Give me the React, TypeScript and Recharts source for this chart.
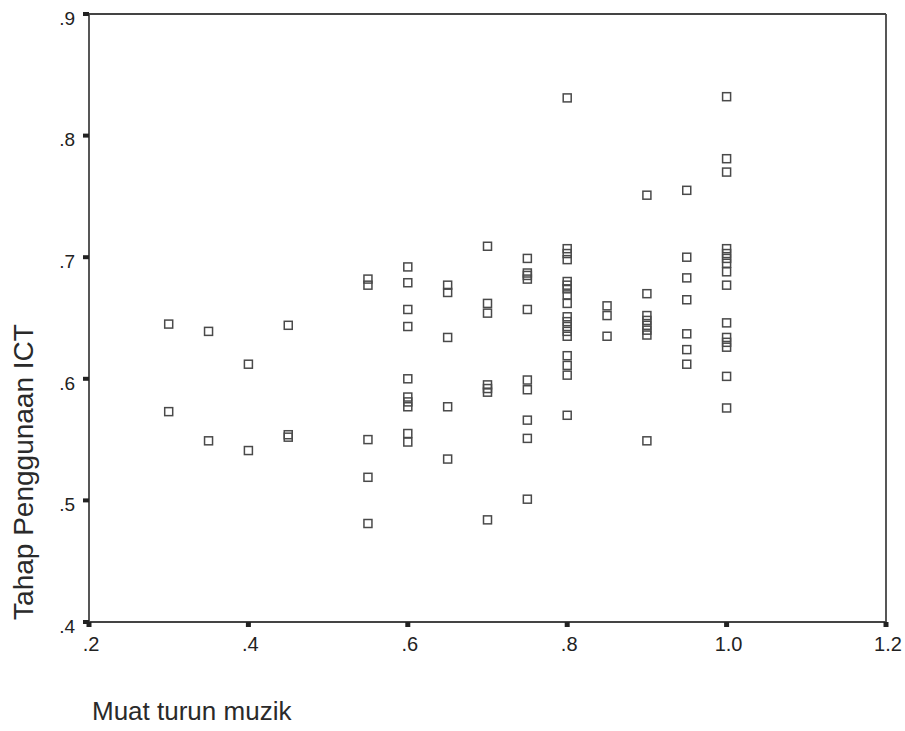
import { ScatterChart, Scatter, XAxis, YAxis, ReferenceLine, Label } from "recharts";

const ink = "#222";
const frame = "#444";
const marker = "#4a4a4a";

// x levels of "Muat turun muzik" and the ICT values read at each level
const xLevels = [0.3, 0.35, 0.4, 0.45, 0.55, 0.6, 0.65, 0.7, 0.75, 0.8, 0.85, 0.9, 0.95, 1.0];
const y030 = [0.645, 0.573];
const y035 = [0.639, 0.549];
const y040 = [0.612, 0.541];
const y045 = [0.644, 0.554, 0.552];
const y055 = [0.682, 0.677, 0.55, 0.519, 0.481];
const y060 = [0.692, 0.679, 0.657, 0.643, 0.6, 0.585, 0.581, 0.577, 0.555, 0.548];
const y065 = [0.677, 0.671, 0.634, 0.577, 0.534];
const y070 = [0.709, 0.662, 0.654, 0.595, 0.592, 0.589, 0.484];
const y075 = [0.699, 0.687, 0.685, 0.682, 0.657, 0.599, 0.591, 0.566, 0.551, 0.501];
const y080 = [0.831, 0.707, 0.703, 0.698, 0.68, 0.677, 0.674, 0.669, 0.662, 0.651, 0.647, 0.643, 0.639, 0.635, 0.619, 0.611, 0.603, 0.57];
const y085 = [0.66, 0.652, 0.635];
const y090 = [0.751, 0.67, 0.652, 0.648, 0.644, 0.64, 0.636, 0.549];
const y095 = [0.755, 0.7, 0.683, 0.665, 0.637, 0.624, 0.612];
const y100 = [0.832, 0.781, 0.77, 0.707, 0.703, 0.699, 0.695, 0.688, 0.677, 0.646, 0.634, 0.63, 0.626, 0.602, 0.576];

const xTicks = [0.2, 0.4, 0.6, 0.8, 1.0, 1.2];
const yTicks = [0.4, 0.5, 0.6, 0.7, 0.8, 0.9];

const columns = [y030, y035, y040, y045, y055, y060, y065, y070, y075, y080, y085, y090, y095, y100];
const points = columns.flatMap((ys, i) => ys.map((y) => ({ x: xLevels[i], y })));

const fmt = (v: number) => v.toFixed(1).replace(/^0/, "");
const font = "'Liberation Sans', Arial, sans-serif";

const SquareDot = (p: any) => (
  <rect x={p.cx - 4} y={p.cy - 4} width={8} height={8} fill="#fff" fillOpacity={0} stroke={marker} strokeWidth={1.5} />
);

const YTick = ({ x, y, payload }: any) => (
  <text x={x} y={y + 4} dy="0.355em" textAnchor="end" fontSize={19} fill={ink} fontFamily={font}>
    {fmt(payload.value)}
  </text>
);

const XTick = ({ x, y, payload }: any) => (
  <text x={x + 2} y={y} dy="0.71em" textAnchor="middle" fontSize={20} fill={ink} fontFamily={font}>
    {fmt(payload.value)}
  </text>
);

export default function App() {
  return (
    <div style={{ position: "absolute", left: 0, top: 0, width: 905, height: 731, background: "#fff" }}>
      <ScatterChart width={905} height={731} margin={{ top: 14, right: 19, left: 0, bottom: 0 }}>
        <XAxis
          type="number"
          dataKey="x"
          domain={[0.2, 1.2]}
          ticks={xTicks}
          height={109}
          tickSize={5}
          tickMargin={10}
          tickLine={{ stroke: ink, strokeWidth: 5 }}
          axisLine={{ stroke: frame, strokeWidth: 1.8 }}
          tick={<XTick />}
        >
          <Label
            content={() => (
              <text x={92} y={720} textAnchor="start" fontSize={26} fill="#2a2a2a" fontFamily={font}>
                Muat turun muzik
              </text>
            )}
          />
        </XAxis>
        <YAxis
          type="number"
          dataKey="y"
          domain={[0.4, 0.9]}
          ticks={yTicks}
          width={89}
          tickSize={6}
          tickMargin={8}
          tickLine={{ stroke: ink, strokeWidth: 4 }}
          axisLine={{ stroke: frame, strokeWidth: 1.8 }}
          tick={<YTick />}
        >
          <Label
            content={() => (
              <text x={33} y={472} transform="rotate(-90 33 472)" textAnchor="middle" fontSize={28} fill="#2a2a2a" fontFamily={font}>
                Tahap Penggunaan ICT
              </text>
            )}
          />
        </YAxis>
        <ReferenceLine y={0.9} stroke={frame} strokeWidth={1.8} />
        <ReferenceLine x={1.2} stroke={frame} strokeWidth={1.8} />
        <Scatter data={points} shape={SquareDot} isAnimationActive={false} />
      </ScatterChart>
    </div>
  );
}
